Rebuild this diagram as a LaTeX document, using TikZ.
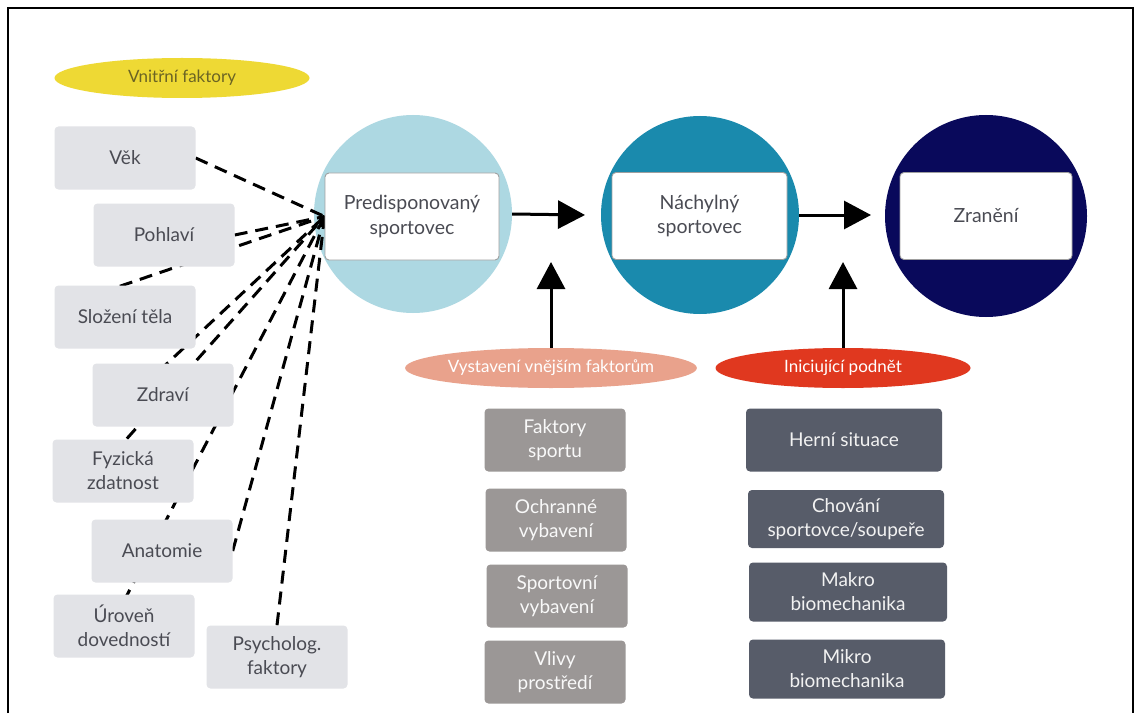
\documentclass[tikz,border=0pt]{standalone}
\usepackage{fontspec}
\setmainfont{Lato}
\usetikzlibrary{shapes.geometric,arrows.meta}
\definecolor{boxlight}{HTML}{E2E3E7}
\definecolor{txtdark}{HTML}{4A4B53}
\definecolor{yel}{HTML}{EED934}
\definecolor{yeltxt}{HTML}{6B6424}
\definecolor{cone}{HTML}{ADD8E2}
\definecolor{ctwo}{HTML}{1A8AAD}
\definecolor{cthree}{HTML}{09095B}
\definecolor{salmon}{HTML}{E9A28C}
\definecolor{redc}{HTML}{E0381F}
\definecolor{midgray}{HTML}{9B9796}
\definecolor{slate}{HTML}{575C69}
\pgfdeclarelayer{circ}
\pgfdeclarelayer{lines}
\pgfsetlayers{circ,lines,main}
\begin{document}
\begin{tikzpicture}[x=1pt,y=-1pt,
  lbox/.style={rectangle, rounded corners=4pt, fill=boxlight, text=txtdark,
    minimum width=141pt, minimum height=63pt, align=center, inner sep=0pt,
    font=\fontsize{19}{24}\selectfont},
  gbox/.style={lbox, fill=midgray, text=white!95!gray},
  dbox/.style={lbox, fill=slate, text=white!90!gray, minimum width=196pt},
  circ/.style={circle, minimum size=198pt, inner sep=0pt},
  wrect/.style={rectangle, rounded corners=4pt, fill=white, draw=gray!75, line width=0.9pt,
    minimum width=174pt, minimum height=87pt, align=center, text=txtdark, inner sep=0pt,
    font=\fontsize{19.5}{24.5}\selectfont},
  oval/.style={ellipse, minimum width=255pt, minimum height=40pt, inner sep=0pt,
    font=\fontsize{17}{20}\selectfont},
  dline/.style={line width=3pt, dash pattern=on 13pt off 8pt},
  bigarrow/.style={line width=3pt, -{Triangle[width=28pt,length=27pt]}}
]
\begin{pgfonlayer}{circ}
\useasboundingbox (0,0) rectangle (1142,713);
\fill[white] (0,0) rectangle (1142,713);
\node[circ, fill=cone] (c1) at (413,214) {};
\node[circ, fill=ctwo] (c2) at (700,215) {};
\node[circ, fill=cthree, minimum size=202pt] (c3) at (986,216) {};
\end{pgfonlayer}
\draw[line width=2pt] (8,713) -- (8,8) -- (1133,8) -- (1133,713);

\node[wrect] (pred) at (412,216.5) {Predisponovaný\\sportovec};
\node[wrect, minimum width=175pt] (nach) at (699.5,216) {Náchylný\\sportovec};
\node[wrect, minimum width=172pt] (zran) at (986,216) {Zranění};

% inner factors
\node[oval, fill=yel, text=yeltxt] (vf) at (182,78) {Vnitřní faktory};
\node[lbox] (vek) at (125,158) {Věk};
\node[lbox] (pohl) at (164,235) {Pohlaví};
\node[lbox] (slo) at (125,317) {Složení těla};
\node[lbox] (zdr) at (163,395) {Zdraví};
\node[lbox] (fyz) at (123,471) {Fyzická\\zdatnost};
\node[lbox] (ana) at (162,551) {Anatomie};
\node[lbox] (uro) at (124,626) {Úroveň\\dovedností};
\node[lbox] (psy) at (277,657) {Psycholog.\\faktory};

\coordinate (slos) at (100,293);
\coordinate (zdrs) at (128,400);
\coordinate (fyzs) at (99,470);
\coordinate (uros) at (114,620);

\begin{pgfonlayer}{lines}
\draw[dline] (vek.east) -- (pred.west);
\draw[dline] (pohl.east) -- (pred.west);
\draw[dline] (slos) -- (pred.west);
\draw[dline] (zdrs) -- (pred.west);
\draw[dline] (fyzs) -- (pred.west);
\draw[dline] (ana.east) -- (pred.west);
\draw[dline] (uros) -- (pred.west);
\draw[dline] (psy.north) -- (pred.west);
\end{pgfonlayer}

% main arrows
\coordinate (a1) at (585,215);
\coordinate (a2) at (871,215);
\draw[bigarrow] (c1.east) -- (a1);
\draw[bigarrow] (c2.east) -- (a2);

% external factors
\node[oval, fill=salmon, text=white] (vyst) at (551,368) {Vystavení vnějším faktorům};
\node[oval, fill=redc, text=white] (inic) at (843,368) {Iniciující podnět};
\coordinate (u1) at (551,262);
\coordinate (u2) at (843,262);
\draw[bigarrow] (vyst.north) -- (u1);
\draw[bigarrow] (inic.north) -- (u2);

\node[gbox] (fs) at (555,440) {Faktory\\sportu};
\node[gbox] (ov) at (556,520) {Ochranné\\vybavení};
\node[gbox] (sv) at (557,596) {Sportovní\\vybavení};
\node[gbox] (vp) at (555,672) {Vlivy\\prostředí};

\node[dbox] (hs) at (844,440) {Herní situace};
\node[dbox, minimum height=58pt] (ch) at (846,519) {Chování\\sportovce/soupeře};
\node[dbox, minimum width=198pt, minimum height=59pt] (ma) at (848,592) {Makro\\biomechanika};
\node[dbox, minimum height=59pt] (mi) at (847,669) {Mikro\\biomechanika};
\end{tikzpicture}
\end{document}
